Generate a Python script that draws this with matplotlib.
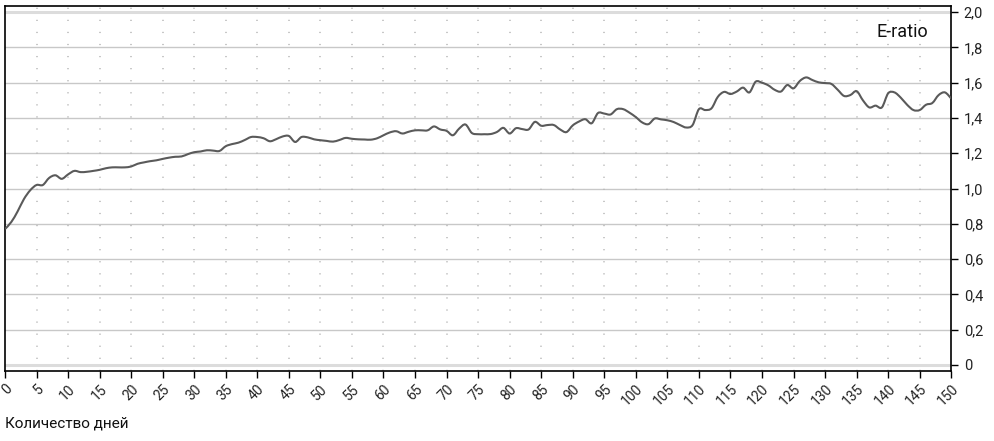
import matplotlib

matplotlib.use("Agg")
import matplotlib.pyplot as plt
import numpy as np
from matplotlib.patches import PathPatch
from matplotlib.path import Path


# E-ratio by day (days 0..150)
DAYS = list(range(0, 151))
E_RATIO = [
    0.77, 0.81, 0.87, 0.94, 0.99, 1.02, 1.02, 1.06, 1.075, 1.055,
    1.08, 1.10, 1.093, 1.095, 1.10, 1.106, 1.115, 1.12, 1.12, 1.12,
    1.125, 1.14, 1.148, 1.155, 1.16, 1.168, 1.175, 1.18, 1.182, 1.195,
    1.206, 1.21, 1.217, 1.215, 1.213, 1.24, 1.252, 1.26, 1.275, 1.292,
    1.292, 1.285, 1.268, 1.28, 1.295, 1.298, 1.264, 1.292, 1.29, 1.279,
    1.274, 1.27, 1.266, 1.275, 1.287, 1.282, 1.279, 1.278, 1.277, 1.285,
    1.302, 1.318, 1.325, 1.312, 1.322, 1.33, 1.33, 1.33, 1.352, 1.335,
    1.327, 1.302, 1.34, 1.363, 1.315, 1.308, 1.308, 1.309, 1.321, 1.344,
    1.312, 1.342, 1.337, 1.335, 1.378, 1.356, 1.36, 1.36, 1.335, 1.32,
    1.358, 1.38, 1.393, 1.37, 1.428, 1.425, 1.42, 1.45, 1.45, 1.43,
    1.405, 1.375, 1.365, 1.397, 1.392, 1.387, 1.377, 1.36, 1.346, 1.36,
    1.45, 1.445, 1.455, 1.52, 1.548, 1.536, 1.55, 1.572, 1.545, 1.606,
    1.60, 1.585, 1.56, 1.55, 1.587, 1.568, 1.61, 1.63, 1.615, 1.602,
    1.598, 1.593, 1.56, 1.525, 1.53, 1.552, 1.50, 1.46, 1.47, 1.46,
    1.54, 1.545, 1.515, 1.475, 1.445, 1.445, 1.475, 1.485, 1.53, 1.545,
    1.51,
]

X_TICKS = list(range(0, 151, 5))
Y_TICKS = [0.0, 0.2, 0.4, 0.6, 0.8, 1.0, 1.2, 1.4, 1.6, 1.8, 2.0]
Y_TICK_LABELS = ["0", "0,2", "0,4", "0,6", "0,8", "1,0", "1,2", "1,4", "1,6", "1,8", "2,0"]

SERIES_LABEL = "E-ratio"
X_LABEL = "Количество дней"


def smooth_path(x, y):
    # Catmull-Rom through the points, written as cubic Bezier segments
    pts = np.column_stack([x, y]).astype(float)
    padded = np.vstack([pts[0], pts, pts[-1]])
    verts = [pts[0]]
    codes = [Path.MOVETO]
    for i in range(1, len(padded) - 2):
        p0, p1, p2, p3 = padded[i - 1], padded[i], padded[i + 1], padded[i + 2]
        verts += [p1 + (p2 - p0) / 6, p2 - (p3 - p1) / 6, p2]
        codes += [Path.CURVE4] * 3
    return Path(verts, codes)


def main():
    fig = plt.figure(figsize=(9.94, 4.41), dpi=100)
    ax = fig.add_axes([0.005, 0.159, 0.952, 0.827])

    # horizontal grid
    for value in Y_TICKS:
        if value in (0.0, 2.0):
            ax.axhline(value, color="#dcdcdc", linewidth=2.2, zorder=1)
        else:
            ax.axhline(value, color="#c8c8c8", linewidth=1.0, zorder=1)

    # dotted vertical grid
    for day in X_TICKS[1:-1]:
        ax.axvline(
            day,
            color="#b8b8b8",
            linewidth=1.1,
            dashes=(0.8, 7.1),
            zorder=1,
        )

    line = PathPatch(
        smooth_path(DAYS, E_RATIO),
        facecolor="none",
        edgecolor="#5a5a5a",
        linewidth=1.5,
        zorder=3,
    )
    ax.add_patch(line)

    ax.set_xlim(0, 150)
    ax.set_ylim(-0.034, 2.034)

    ax.set_xticks(X_TICKS)
    ax.set_xticklabels(
        [str(t) for t in X_TICKS],
        rotation=45,
        ha="right",
        va="top",
        rotation_mode="anchor",
        fontsize=10,
        family="Roboto",
        color="#222222",
    )
    ax.tick_params(axis="x", direction="out", length=5, width=1, pad=3)

    ax.yaxis.tick_right()
    ax.set_yticks(Y_TICKS)
    ax.set_yticklabels(Y_TICK_LABELS, fontsize=10.5, family="Roboto", color="#222222")
    ax.tick_params(axis="y", direction="out", length=5, width=1, pad=4)

    for spine in ax.spines.values():
        spine.set_color("black")
        spine.set_linewidth(1.2)

    ax.text(
        0.976, 0.93,
        SERIES_LABEL,
        transform=ax.transAxes,
        ha="right",
        va="center",
        fontsize=13,
        family="Roboto",
        color="#111111",
    )

    fig.text(
        0.005, 0.04,
        X_LABEL,
        ha="left",
        va="center",
        fontsize=11,
        family="Roboto",
        color="#111111",
    )

    fig.savefig("out.png", dpi=100)
    plt.close(fig)


if __name__ == "__main__":
    main()
